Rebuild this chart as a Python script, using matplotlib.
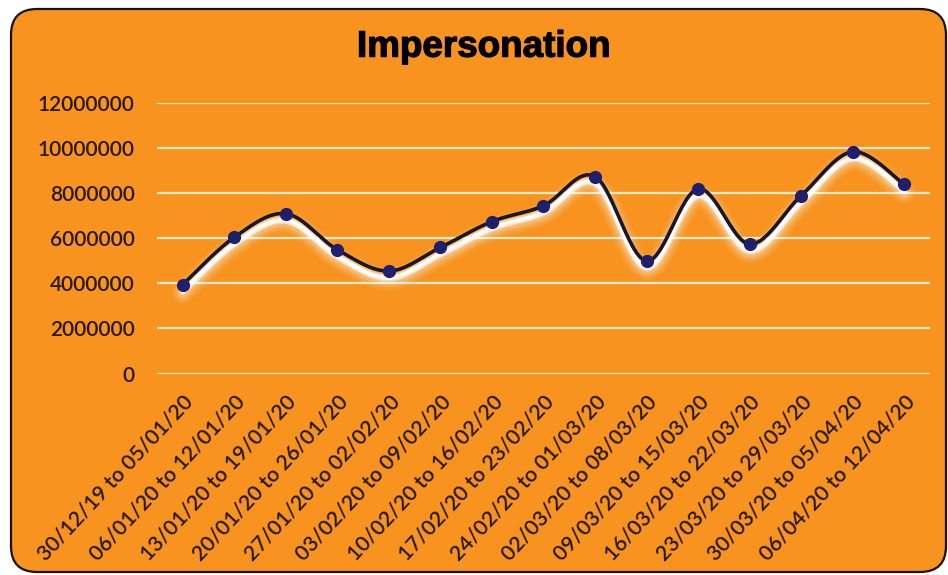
import numpy as np
import matplotlib
matplotlib.use("Agg")
import matplotlib.pyplot as plt
from matplotlib.patches import FancyBboxPatch
import matplotlib.transforms as mtransforms
import matplotlib.patheffects as pe

# donnees
semaines = ["30/12/19 to 05/01/20", "06/01/20 to 12/01/20", "13/01/20 to 19/01/20",
            "20/01/20 to 26/01/20", "27/01/20 to 02/02/20", "03/02/20 to 09/02/20",
            "10/02/20 to 16/02/20", "17/02/20 to 23/02/20", "24/02/20 to 01/03/20",
            "02/03/20 to 08/03/20", "09/03/20 to 15/03/20", "16/03/20 to 22/03/20",
            "23/03/20 to 29/03/20", "30/03/20 to 05/04/20", "06/04/20 to 12/04/20"]
valeurs = [3950000, 6050000, 7100000, 5500000, 4550000, 5600000, 6750000, 7450000,
           8750000, 5000000, 8200000, 5750000, 7900000, 9850000, 8400000]
graduations = [0, 2000000, 4000000, 6000000, 8000000, 10000000, 12000000]

orange = "#F7931E"
texte = "#24180e"


# lissage facon Excel (bezier / catmull-rom)
def lisse(x, y, n=30):
    x = np.asarray(x, float)
    y = np.asarray(y, float)
    px = np.concatenate([[x[0]], x, [x[-1]]])
    py = np.concatenate([[y[0]], y, [y[-1]]])
    xs, ys = [], []
    t = np.linspace(0, 1, n)
    for i in range(1, len(px) - 2):
        p0 = np.array([px[i], py[i]])
        p3 = np.array([px[i + 1], py[i + 1]])
        p1 = p0 + (np.array([px[i + 1], py[i + 1]]) - np.array([px[i - 1], py[i - 1]])) / 6
        p2 = p3 - (np.array([px[i + 2], py[i + 2]]) - np.array([px[i], py[i]])) / 6
        b = ((1 - t) ** 3)[:, None] * p0 + (3 * (1 - t) ** 2 * t)[:, None] * p1 \
            + (3 * (1 - t) * t ** 2)[:, None] * p2 + (t ** 3)[:, None] * p3
        xs.extend(b[:, 0])
        ys.extend(b[:, 1])
    return np.array(xs), np.array(ys)


fig = plt.figure(figsize=(9.48, 5.75), dpi=100)
fig.patch.set_facecolor("white")

cadre = FancyBboxPatch((11, 3), 935, 563, boxstyle="round,pad=0,rounding_size=26",
                       transform=mtransforms.IdentityTransform(), facecolor=orange,
                       edgecolor="#1a1008", linewidth=1.6, zorder=-5)
fig.patches.append(cadre)

ax = fig.add_axes([0.1656, 0.3504, 0.8154, 0.4699])
ax.set_zorder(2)
ax.set_facecolor("none")
x = np.arange(len(valeurs))
ax.set_xlim(-0.5, len(valeurs) - 0.5)
ax.set_ylim(0, 12000000)

for g in graduations:
    ax.axhline(g, color="#FDEBD0", linewidth=1.6, zorder=1)

xs, ys = lisse(x, valeurs)

# halo blanc sous la courbe
for dy, lw, a in [(-8, 16, 0.08), (-8, 12, 0.12), (-8, 8, 0.2), (-7, 5, 0.45), (-7, 3, 0.8), (-6, 1.6, 1.0)]:
    tr = mtransforms.offset_copy(ax.transData, fig=fig, x=0, y=dy, units="dots")
    ax.plot(xs, ys, color="white", linewidth=lw, alpha=a, transform=tr,
            solid_capstyle="round", zorder=2)

ax.plot(xs, ys, color="#17172f", linewidth=2.6, zorder=3, solid_capstyle="round")
ax.plot(x, valeurs, linestyle="none", marker="o", markersize=8.5,
        color="#1f1f6e", zorder=4)

for s in ax.spines.values():
    s.set_visible(False)
ax.tick_params(length=0)
ax.set_yticks(graduations)
ax.set_yticklabels([str(g) for g in graduations], fontsize=15, color=texte,
                   family="Lato", fontweight="semibold")
ax.tick_params(axis="y", pad=16)
ax.set_xticks(x)
ax.set_xticklabels(semaines, rotation=47, ha="right", rotation_mode="anchor",
                   fontsize=15.3, color=texte, family="Lato", fontweight="semibold")
ax.tick_params(axis="x", pad=13)

fig.text(0.51, 0.918, "Impersonation", ha="center", va="center", fontsize=26.5,
         fontweight="bold", color="black", family="Liberation Sans", zorder=5,
         path_effects=[pe.withStroke(linewidth=0.9, foreground="black")])

fig.savefig("out.png", dpi=100, facecolor=fig.get_facecolor())
